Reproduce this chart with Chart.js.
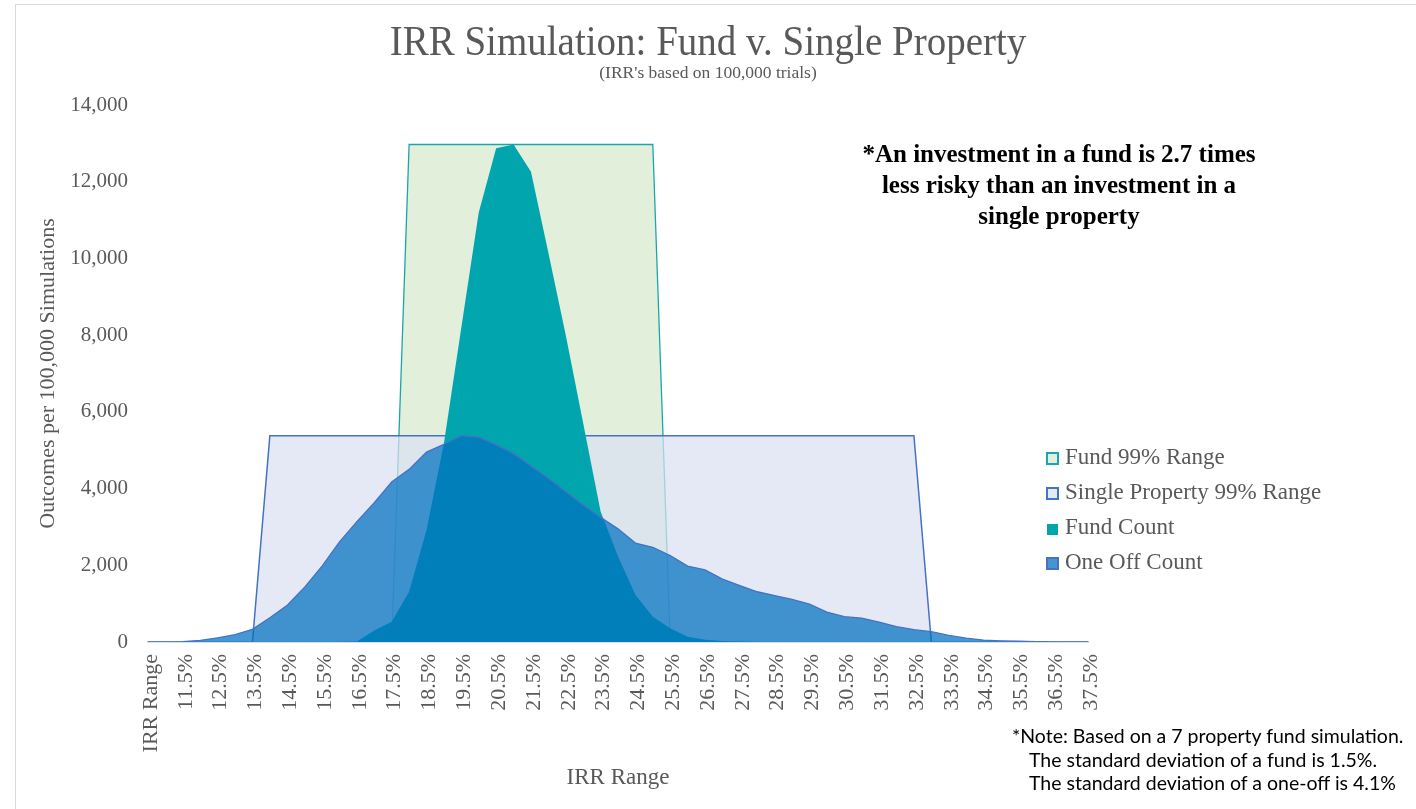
<!DOCTYPE html>
<html>
<head>
<meta charset="utf-8">
<title>IRR Simulation: Fund v. Single Property</title>
<script src="https://cdn.jsdelivr.net/npm/chart.js@4.4.1/dist/chart.umd.min.js"></script>
<style>
  html, body { margin: 0; padding: 0; background: #fff; }
  #wrap { position: relative; width: 1416px; height: 809px; overflow: hidden; background: #fff; }
  #frame { position: absolute; left: 15px; top: 4px; width: 1420px; height: 820px; border: 1px solid #d9d9d9; box-sizing: border-box; }
  #irr-chart { position: absolute; left: 0; top: 0; }
  .serif { font-family: "Liberation Serif", "Times New Roman", serif; }
  #title { position: absolute; left: 0; top: 17px; width: 1416px; text-align: center; font-size: 39px; color: #595959; line-height: 48px; transform: scaleY(1.07); }
  #subtitle { position: absolute; left: 0; top: 62px; width: 1416px; text-align: center; font-size: 17.5px; color: #595959; line-height: 20px; }
  #callout { position: absolute; left: 809px; top: 138px; width: 500px; text-align: center; font-size: 25px; font-weight: bold; color: #000; line-height: 31px; }
  #legend { position: absolute; left: 1046px; top: 439px; }
  #legend div { height: 35px; line-height: 35px; font-size: 23px; color: #595959; white-space: nowrap; }
  #legend span.box { display: inline-block; width: 13px; height: 13px; box-sizing: border-box; margin-right: 6px; vertical-align: -1px; }
  #note { position: absolute; left: 1012px; top: 724px; font-family: Lato, "Open Sans", sans-serif; font-size: 19.5px; color: #000; line-height: 23.5px; white-space: nowrap; }
  #note .indent { padding-left: 17px; }
</style>
</head>
<body>
<div id="wrap">
  <div id="frame"></div>
  <canvas id="irr-chart" width="1416" height="809"></canvas>
  <div id="title" class="serif">IRR Simulation: Fund v. Single Property</div>
  <div id="subtitle" class="serif">(IRR's based on 100,000 trials)</div>
  <div id="callout" class="serif">*An investment in a fund is 2.7 times<br>less risky than an investment in a<br>single property</div>
  <div id="legend" class="serif"></div>
  <div id="note">
    <div>*Note: Based on a 7 property fund simulation.</div>
    <div class="indent">The standard deviation of a fund is 1.5%.</div>
    <div class="indent">The standard deviation of a one-off is 4.1%</div>
  </div>
</div>
<script>
// IRR buckets (first row of the sheet is the header "IRR Range")
const irrLabels = [
  "IRR Range", "11.0%", "11.5%", "12.0%", "12.5%", "13.0%", "13.5%", "14.0%", "14.5%", "15.0%",
  "15.5%", "16.0%", "16.5%", "17.0%", "17.5%", "18.0%", "18.5%", "19.0%", "19.5%", "20.0%",
  "20.5%", "21.0%", "21.5%", "22.0%", "22.5%", "23.0%", "23.5%", "24.0%", "24.5%", "25.0%",
  "25.5%", "26.0%", "26.5%", "27.0%", "27.5%", "28.0%", "28.5%", "29.0%", "29.5%", "30.0%",
  "30.5%", "31.0%", "31.5%", "32.0%", "32.5%", "33.0%", "33.5%", "34.0%", "34.5%", "35.0%",
  "35.5%", "36.0%", "36.5%", "37.0%", "37.5%"
];

// outcomes per 100,000 simulations
const fundCount = [
  0, 0, 0, 0, 0, 0, 0, 0, 0, 0,
  0, 0, 10, 300, 530, 1310, 2920, 5180, 8200, 11200,
  12870, 12970, 12260, 10150, 8000, 5700, 3400, 2230, 1230, 660,
  360, 140, 60, 25, 10, 0, 0, 0, 0, 0,
  0, 0, 0, 0, 0, 0, 0, 0, 0, 0,
  0, 0, 0, 0, 0
];

const oneOffCount = [
  0, 0, 10, 40, 110, 190, 330, 630, 960, 1430,
  1980, 2610, 3140, 3630, 4170, 4500, 4950, 5150, 5380, 5340,
  5140, 4910, 4590, 4270, 3920, 3570, 3250, 2950, 2580, 2470,
  2250, 1980, 1880, 1640, 1470, 1310, 1210, 1110, 990, 780,
  660, 620, 520, 400, 320, 270, 170, 100, 50, 30,
  20, 10, 5, 0, 0
];

// 99% ranges, drawn as flat blocks at the peak height of each count
const fundRange = [
  null, null, null, null, null, null, null, null, null, null,
  null, null, null, null, 0, 12970, 12970, 12970, 12970, 12970,
  12970, 12970, 12970, 12970, 12970, 12970, 12970, 12970, 12970, 12970,
  0, null, null, null, null, null, null, null, null, null,
  null, null, null, null, null, null, null, null, null, null,
  null, null, null, null, null
];

const singleRange = [
  null, null, null, null, null, null, 0, 5380, 5380, 5380,
  5380, 5380, 5380, 5380, 5380, 5380, 5380, 5380, 5380, 5380,
  5380, 5380, 5380, 5380, 5380, 5380, 5380, 5380, 5380, 5380,
  5380, 5380, 5380, 5380, 5380, 5380, 5380, 5380, 5380, 5380,
  5380, 5380, 5380, 5380, 5380, 0, null, null, null, null,
  null, null, null, null, null
];

const yTicks = [0, 2000, 4000, 6000, 8000, 10000, 12000, 14000];

const serif = "'Liberation Serif', 'Times New Roman', serif";
const grey = "#595959";

const ctx = document.getElementById("irr-chart").getContext("2d");
const irrChart = new Chart(ctx, {
  type: "line",
  data: {
    labels: irrLabels,
    datasets: [
      {
        label: "Fund 99% Range",
        data: fundRange,
        borderColor: "#1aa6ae",
        backgroundColor: "rgba(226,239,218,1)",
        borderWidth: 1.3,
        fill: "origin",
        order: 4,
      },
      {
        label: "Single Property 99% Range",
        data: singleRange,
        borderColor: "#4472c4",
        backgroundColor: "rgba(218,225,241,0.72)",
        borderWidth: 1.5,
        fill: "origin",
        order: 3,
      },
      {
        label: "Fund Count",
        data: fundCount,
        borderColor: "rgba(0,165,174,0)",
        backgroundColor: "#00a5ae",
        borderWidth: 0,
        fill: "origin",
        order: 2,
      },
      {
        label: "One Off Count",
        data: oneOffCount,
        borderColor: "#4472c4",
        backgroundColor: "rgba(0,112,192,0.72)",
        borderWidth: 1.3,
        fill: "origin",
        order: 1,
      },
    ],
  },
  options: {
    responsive: false,
    animation: false,
    layout: { padding: { left: 30, right: 328, top: 105, bottom: 8 } },
    elements: { point: { radius: 0, hoverRadius: 0 }, line: { tension: 0 } },
    plugins: {
      legend: { display: false },
      tooltip: { enabled: false },
    },
    scales: {
      x: {
        type: "category",
        offset: false,
        grid: { display: false, drawTicks: false },
        border: { display: true, color: "#a9c1da", width: 1.5 },
        ticks: {
          autoSkip: false,
          maxRotation: 90,
          minRotation: 90,
          padding: 12,
          labelOffset: 3,
          color: grey,
          font: { family: serif, size: 22 },
          callback: function (val, idx) {
            return idx % 2 === 0 ? irrLabels[idx] : null;
          },
        },
        title: {
          display: true,
          text: "IRR Range",
          color: grey,
          font: { family: serif, size: 23 },
          padding: { top: 4, bottom: 9 },
        },
        afterFit: function (scale) {
          scale.height = 159;
        },
      },
      y: {
        min: 0,
        max: 14000,
        afterBuildTicks: function (scale) {
          scale.ticks = yTicks.map((v) => ({ value: v }));
        },
        grid: { display: false, drawTicks: false },
        border: { display: false },
        ticks: {
          padding: 20,
          color: grey,
          font: { family: serif, size: 21 },
          callback: (v) => v.toLocaleString("en-US"),
        },
        title: {
          display: true,
          text: "Outcomes per 100,000 Simulations",
          color: grey,
          font: { family: serif, size: 22 },
          padding: { top: 5, bottom: 4 },
        },
        afterFit: function (scale) {
          scale.width = 118;
        },
      },
    },
  },
});

// legend built from the datasets, in sheet order
const legendBox = document.getElementById("legend");
irrChart.data.datasets.forEach(function (ds) {
  const row = document.createElement("div");
  const box = document.createElement("span");
  box.className = "box";
  if (ds.label === "Fund Count") {
    box.style.background = ds.backgroundColor;
    box.style.width = "11px";
    box.style.height = "11px";
    box.style.marginLeft = "1px";
    box.style.marginRight = "7px";
  } else if (ds.label === "One Off Count") {
    box.style.background = "#4695d0";
    box.style.border = "2px solid " + ds.borderColor;
  } else {
    box.style.background = ds.label === "Fund 99% Range" ? "#e2efda" : "#e3e9f5";
    box.style.border = "2px solid " + ds.borderColor;
  }
  row.appendChild(box);
  row.appendChild(document.createTextNode(ds.label));
  legendBox.appendChild(row);
});
</script>
</body>
</html>
